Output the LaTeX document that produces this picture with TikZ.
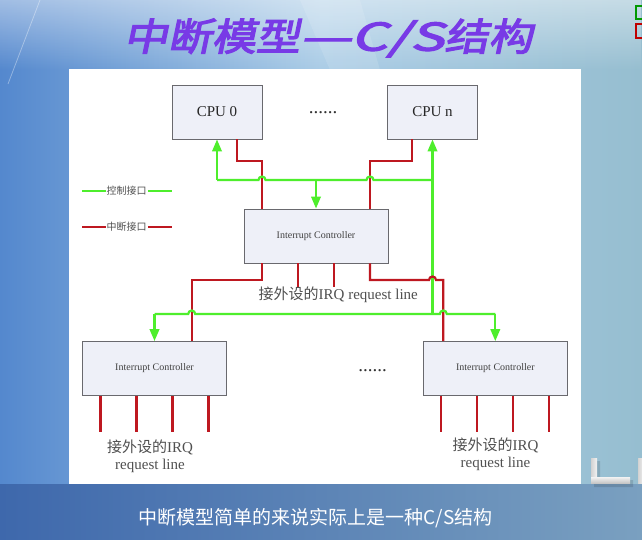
\documentclass[tikz,border=0pt]{standalone}
\usepackage{fontspec}
\setmainfont{Liberation Serif}
\newfontfamily\cjk{Noto Sans CJK SC}
\newfontfamily\cjktitle[FakeBold=3,FakeSlant=0.18]{Noto Sans CJK SC}
\usetikzlibrary{arrows.meta,calc,fadings}

\definecolor{busgreen}{RGB}{78,238,44}
\definecolor{irqred}{RGB}{190,24,32}
\definecolor{boxfill}{RGB}{238,240,248}
\definecolor{boxline}{RGB}{105,105,110}
\definecolor{bgL}{RGB}{84,136,206}
\definecolor{bgM}{RGB}{170,204,230}
\definecolor{bgR}{RGB}{150,190,208}
\definecolor{bandL}{RGB}{62,104,172}
\definecolor{bandR}{RGB}{122,160,192}
\definecolor{titlepurple}{RGB}{120,58,230}
\definecolor{labelgray}{RGB}{80,80,80}

\begin{document}
\begin{tikzpicture}[x=1pt,y=-1pt,
  box/.style={draw=boxline, line width=0.9pt, fill=boxfill, inner sep=0pt},
  cpubox/.style={box, minimum width=90pt, minimum height=54pt,
    font=\fontsize{15}{15}\selectfont, text=black!85},
  ctrlbox/.style={box, minimum width=144pt, minimum height=54pt,
    font=\fontsize{10}{10}\selectfont, text=black!75},
  gline/.style={draw=busgreen, line width=2.2pt},
  rline/.style={draw=irqred, line width=2.2pt},
  garrow/.style={gline, -{Triangle[length=12pt,width=9.5pt]}},
  legtext/.style={font=\cjk\fontsize{10}{10}\selectfont, text=labelgray, inner sep=1pt},
  irqtext/.style={font=\fontsize{15}{17}\selectfont, text=labelgray, align=center, inner sep=0pt},
  dots/.style={font=\fontsize{19}{19}\selectfont, text=black!80}]

% ---------- background ----------
\useasboundingbox (0,0) rectangle (642,540);
\fill[left color=bgL, right color=bgR, middle color=bgM] (0,0) rectangle (642,540);
\fill[white, opacity=0.45, path fading=south] (0,0) rectangle (642,70);
\fill[left color=bandL, right color=bandR] (0,484) rectangle (642,540);
\draw[white, opacity=0.35, line width=0.8pt] (8,84) -- (40,0);
\fill[white, opacity=0.12] (300,0) -- (360,0) -- (380,70) -- (330,70) -- cycle;

% corner marks
\draw[green!60!black, line width=2pt] (643,6) -- (636,6) -- (636,19) -- (643,19);
\draw[red!75!black, line width=2pt] (643,24) -- (636,24) -- (636,38) -- (643,38);

% logo bars
\fill[black, opacity=0.12] (594,461) -- (600,461) -- (600,480) -- (633,480) -- (633,487) -- (594,487) -- cycle;
\shade[left color=gray!35, right color=white!90!gray] (591,458) rectangle (597,483);
\shade[top color=white!90!gray, bottom color=gray!45] (591,477) rectangle (630,483);
\shade[left color=gray!35, right color=white!90!gray] (638,458) rectangle (644,483);

% title and caption
\node[font=\cjktitle\fontsize{38}{38}\selectfont, text=titlepurple] (title) at (328,38)
  {\scalebox{1.16}[1]{中断模型\scalebox{1.3}[1]{—C/S}结构}};
\node[font=\cjk\fontsize{19}{19}\selectfont, text=white] (caption) at (315.5,518)
  {中断模型简单的来说实际上是一种C/S结构};

% ---------- white sheet ----------
\fill[white] (69,69) rectangle (580.5,484);

% ---------- boxes ----------
\node[cpubox] (cpu0) at (217,112) {CPU 0};
\node[cpubox] (cpun) at (432.5,112) {CPU n};
\node[dots] (dtop) at (323,113) {......};
\node[ctrlbox] (ic) at (316,236) {Interrupt Controller};
\node[ctrlbox, minimum height=53.5pt] (icl) at (154.5,368.3) {Interrupt Controller};
\node[ctrlbox, minimum height=53.5pt] (icr) at (495.3,368.3) {Interrupt Controller};
\node[dots] (dlow) at (372.5,371) {......};

% ---------- reference levels and drop points ----------
\coordinate (yredT) at (0,160.7);
\coordinate (ybusT) at (0,180);
\coordinate (yredB) at (0,280);
\coordinate (ybusB) at (0,314);
\coordinate (r1) at ([xshift=-54pt]ic.north);
\coordinate (r2) at ([xshift=54pt]ic.north);
\coordinate (d1) at ([xshift=37.2pt]icl.north);
\coordinate (d2) at ([xshift=-52pt]icr.north);

% ---------- legend ----------
\node[legtext] (leg1) at (126.7,191) {控制接口};
\node[legtext] (leg2) at (126.7,227) {中断接口};
\coordinate (lg1a) at (82,191);  \coordinate (lg1b) at (172,191);
\coordinate (lg2a) at (82,227);  \coordinate (lg2b) at (172,227);
\draw[gline, line width=1.6pt] (lg1a) -- (leg1.west);
\draw[gline, line width=1.6pt] (leg1.east) -- (lg1b);
\draw[rline, line width=1.6pt] (lg2a) -- (leg2.west);
\draw[rline, line width=1.6pt] (leg2.east) -- (lg2b);

% ---------- interrupt lines from the CPUs side ----------
\draw[rline] ([xshift=20pt]cpu0.south) |- (yredT -| r1) -- (r1);
\draw[rline] ([xshift=-20.5pt]cpun.south) |- (yredT -| r2) -- (r2);

% ---------- upper control bus ----------
\draw[gline] (cpu0.south |- ybusT)
  -- ($(ybusT -| r1)+(-3.5,0)$) arc[start angle=180, end angle=0, radius=3.5pt]
  -- ($(ybusT -| r2)+(-3.5,0)$) arc[start angle=180, end angle=0, radius=3.5pt]
  -- (cpun.south |- ybusT);
\draw[garrow] (cpu0.south |- ybusT) -- (cpu0.south);
\draw[garrow] (ic.north |- ybusT) -- (ic.north);
\draw[garrow] (cpun.south |- ybusB) -- (cpun.south);

% ---------- lines below the central controller ----------
\draw[rline] ([xshift=-54pt]ic.south) |- (yredB -| d1) -- (d1);
\draw[rline] ([xshift=54pt]ic.south) -- ([xshift=54pt]ic.south |- yredB)
  -- ($(yredB -| cpun.south)+(-3.5,0)$) arc[start angle=180, end angle=0, radius=3.5pt]
  -- (yredB -| d2) -- (d2);
\foreach \dx in {-18,18} \draw[rline] ([xshift=\dx pt]ic.south) -- ++(0,24);
\node[irqtext] (irqc) at (338.3,295) {{\cjk 接外设的}IRQ request line};

% ---------- lower control bus ----------
\draw[gline] (icl.north |- ybusB)
  -- ($(ybusB -| d1)+(-3.5,0)$) arc[start angle=180, end angle=0, radius=3.5pt]
  -- ($(ybusB -| d2)+(-3.5,0)$) arc[start angle=180, end angle=0, radius=3.5pt]
  -- (icr.north |- ybusB);
\draw[garrow] (icl.north |- ybusB) -- (icl.north);
\draw[garrow] (icr.north |- ybusB) -- (icr.north);

% ---------- peripheral IRQ lines ----------
\foreach \dx in {-54,-18,18,54} {
  \draw[rline] ([xshift=\dx pt]icl.south) -- ++(0,36.7);
  \draw[rline] ([xshift=\dx pt]icr.south) -- ++(0,36.7);
}
\node[irqtext, anchor=north] (irql) at (150,440) {{\cjk 接外设的}IRQ\\request line};
\node[irqtext, anchor=north] (irqr) at (495.5,438) {{\cjk 接外设的}IRQ\\request line};
\end{tikzpicture}
\end{document}
